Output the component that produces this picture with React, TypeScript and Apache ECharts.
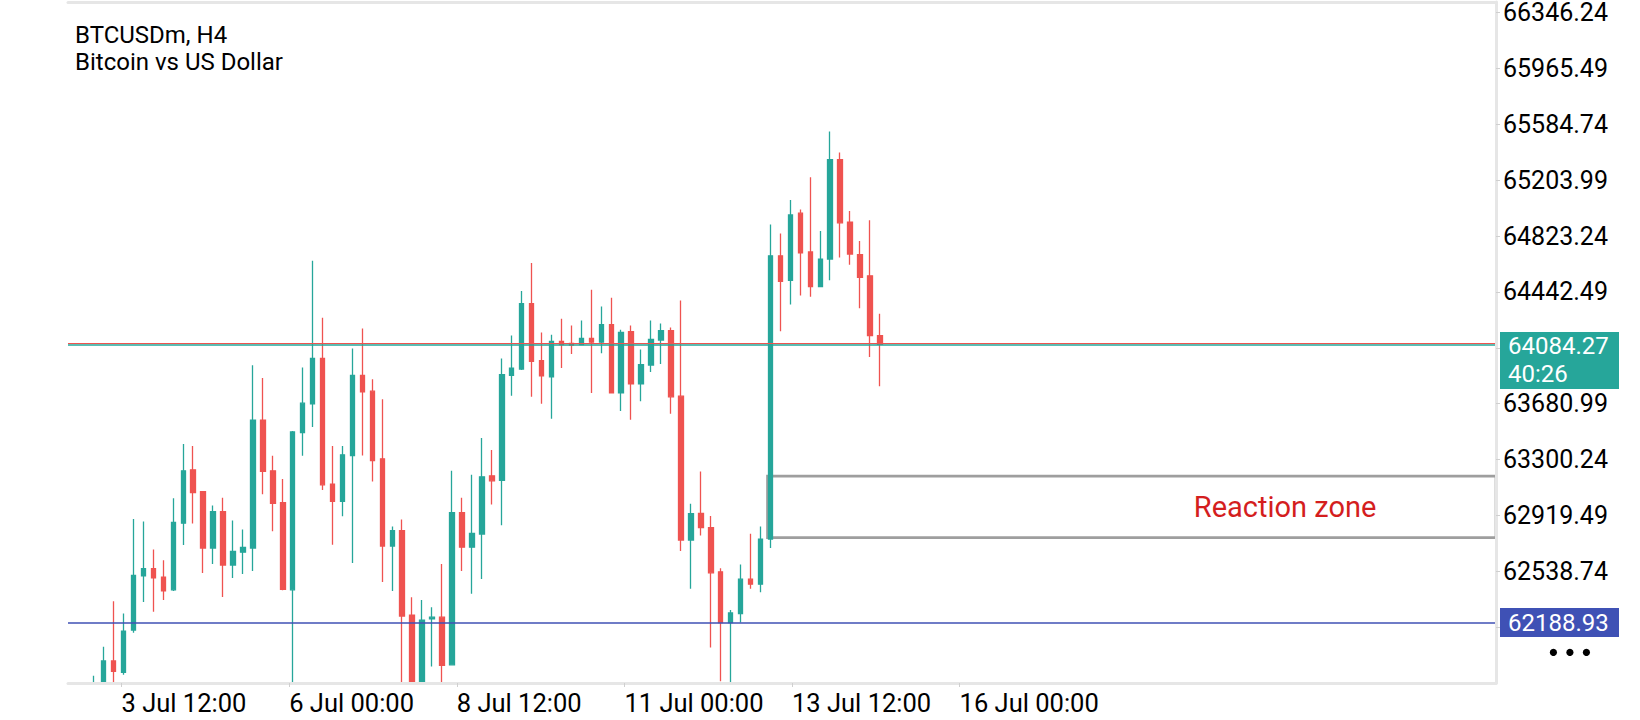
import React, { useEffect, useRef } from "react";
import * as echarts from "echarts";

// ---- Data (H4 bars, index 0 = first visible bar) ----
const opens = [
  61650, 61750, 61928, 61849, 62138, 62507, 62556, 62498, 62412, 62866,
  63230, 63081, 62697, 62945, 62581, 62669, 62697, 63569, 63223, 63006,
  62412, 63483, 63680, 63989, 63133, 63015, 63327, 63874, 63766, 63305,
  62710, 62816, 62240, 61720, 62215, 62226, 61901, 62938, 62703, 62792,
  63189, 63158, 63874, 63917, 64362, 63973, 63863, 64105, 64091, 64084,
  64125, 64100, 64220, 63754, 64172, 63815, 63944, 64114, 64179, 63732,
  62751, 62933, 62836, 62535, 62189, 62250, 62485, 62451, 62758, 64688,
  64521, 64979, 64715, 64478, 64666, 65344, 64918, 64697, 64552, 64145,
];
const closes = [
  61740, 61928, 61856, 62131, 62511, 62556, 62493, 62405, 62871, 63223,
  63074, 62697, 62945, 62581, 62674, 62701, 63569, 63219, 63002, 62416,
  63488, 63684, 63989, 63128, 63015, 63332, 63874, 63761, 63293, 62710,
  62816, 62233, 61740, 62206, 62226, 61897, 62938, 62703, 62796, 63182,
  63155, 63879, 63922, 64362, 63969, 63870, 64105, 64084, 64080, 64125,
  64100, 64220, 63754, 64166, 63815, 63946, 64118, 64179, 63727, 62751,
  62932, 62836, 62528, 62189, 62255, 62485, 62451, 62758, 64688, 64514,
  64967, 64708, 64478, 64666, 65344, 64913, 64700, 64541, 64145, 64084.27,
];
const lows = [
  61600, 61700, 61700, 61833, 62120, 62330, 62263, 62342, 62405, 62717,
  62864, 62527, 62588, 62364, 62493, 62520, 62541, 63063, 62812, 62410,
  61700, 63325, 63521, 63092, 62719, 62913, 62595, 63327, 63151, 62466,
  62405, 61700, 61650, 61650, 61890, 61740, 61897, 62541, 62385, 62486,
  62993, 62853, 63734, 63910, 63727, 63680, 63578, 63924, 64019, 64080,
  63754, 64025, 63754, 63630, 63571, 63698, 63897, 63951, 63612, 62676,
  62419, 62782, 62020, 61790, 61780, 62189, 62419, 62395, 62698, 64175,
  64356, 64417, 64410, 64478, 64521, 64676, 64628, 64331, 63998, 63800,
];
const highs = [
  61826, 62025, 62335, 62251, 62895, 62877, 62687, 62613, 63036, 63406,
  63393, 63081, 62986, 63040, 62884, 62823, 63942, 63856, 63325, 63167,
  63494, 63928, 64654, 64267, 63393, 63393, 64057, 64193, 63847, 63711,
  62844, 62891, 62362, 62342, 62294, 62588, 63223, 63040, 63196, 63447,
  63365, 63989, 64145, 64448, 64640, 64166, 64150, 64260, 64213, 64247,
  64457, 64342, 64403, 64184, 64213, 64050, 64247, 64227, 64200, 64383,
  62999, 63218, 62916, 62560, 62274, 62584, 62795, 62843, 64901, 64841,
  65068, 65003, 65223, 64858, 65536, 65393, 64993, 64789, 64930, 64294,
];

// time-axis labels (positions in bar-index units)
const timeTickPositions = [2.8, 19.64, 36.48, 53.32, 70.16, 87.0];
const timeTickLabels = [
  "3 Jul 12:00",
  "6 Jul 00:00",
  "8 Jul 12:00",
  "11 Jul 00:00",
  "13 Jul 12:00",
  "16 Jul 00:00",
];

// price axis
const priceAxisMin = 61777.24;
const priceAxisMax = 66417;
const priceStep = 380.75;
const barIndexMin = -2.58;
const barIndexMax = 140.89;

// price lines / annotations
const bidPrice = 64084.27;
const askPrice = 64095;
const countdown = "40:26";
const supportPrice = 62188.93;
const zoneStartBar = 67.7;
const zoneTop = 63187;
const zoneBottom = 62768;
const zoneLabel = "Reaction zone";

const symbolName = "BTCUSDm, H4";
const symbolDescription = "Bitcoin vs US Dollar";

const UP = "#26a69a";
const DOWN = "#ef5350";
const BLUE = "#3f51b5";
const FRAME = "#e6e6e6";

export default function App() {
  const ref = useRef<HTMLDivElement>(null);

  useEffect(() => {
    if (!ref.current) return;
    const chart = echarts.init(ref.current, null, { renderer: "svg" });

    const candleData = opens.map((o, i) => [i, o, closes[i], lows[i], highs[i]]);

    const timeLabelFor = (v: number) => {
      const k = timeTickPositions.findIndex((p) => Math.abs(p - v) < 1e-3);
      return k >= 0 ? timeTickLabels[k] : "";
    };

    // axis labels hidden behind the price boxes (or off the grid) are not drawn
    const priceLabelFor = (v: number) => {
      const steps = (v - priceAxisMin) / priceStep;
      if (Math.abs(steps - Math.round(steps)) > 1e-3) return "";
      if (steps < 0.5) return "";
      if (Math.abs(v - supportPrice) < priceStep * 0.5) return "";
      if (v < bidPrice + priceStep * 0.3 && v > bidPrice - priceStep * 0.9) return "";
      return v.toFixed(2);
    };

    const boxToken = (bg: string) => ({
      backgroundColor: bg,
      color: "#ffffff",
      fontSize: 24,
      fontFamily: "Roboto",
      width: 111,
      height: 29,
      lineHeight: 28,
      padding: [0, 0, 0, 8],
      align: "left",
    });

    const option: any = {
      animation: false,
      backgroundColor: "#ffffff",
      textStyle: { fontFamily: "Roboto" },
      title: {
        text: symbolName + "\n" + symbolDescription,
        left: 75,
        top: 21,
        padding: 0,
        textStyle: {
          fontFamily: "Roboto",
          fontSize: 24,
          fontWeight: "normal",
          color: "#000000",
          lineHeight: 27,
        },
      },
      grid: { left: 68, right: 144, top: 2, bottom: 37, show: false },
      xAxis: [
        {
          type: "value",
          position: "bottom",
          z: 10,
          min: barIndexMin,
          max: barIndexMax,
          splitLine: { show: false },
          axisLine: { show: true, onZero: false, lineStyle: { color: FRAME, width: 3 } },
          axisTick: {
            show: true,
            customValues: timeTickPositions,
            length: 4,
            lineStyle: { color: "#cfcfcf", width: 1 },
          },
          axisLabel: {
            show: true,
            customValues: timeTickPositions,
            formatter: (v: number) => timeLabelFor(v),
            align: "left",
            margin: 7,
            fontSize: 25.5,
            color: "#000000",
            fontFamily: "Roboto",
          },
        },
        {
          type: "value",
          position: "top",
          z: 10,
          min: barIndexMin,
          max: barIndexMax,
          splitLine: { show: false },
          axisLine: { show: true, onZero: false, lineStyle: { color: FRAME, width: 3 } },
          axisTick: { show: false },
          axisLabel: { show: false },
        },
      ],
      yAxis: {
        type: "value",
        position: "right",
        z: 10,
        min: priceAxisMin,
        max: priceAxisMax,
        interval: priceStep,
        scale: true,
        splitLine: { show: false },
        axisLine: { show: true, onZero: false, lineStyle: { color: FRAME, width: 3 } },
        axisTick: { show: true, length: 4, lineStyle: { color: "#cfcfcf", width: 1 } },
        axisLabel: {
          formatter: (v: number) => priceLabelFor(v),
          margin: 7,
          fontSize: 25,
          lineHeight: 20,
          color: "#000000",
          fontFamily: "Roboto",
          showMaxLabel: false,
          showMinLabel: false,
        },
      },
      graphic: [
        {
          // mask that hides candle parts falling below the price-axis minimum
          type: "rect",
          left: 60,
          bottom: 0,
          z: 5,
          shape: { width: 1445, height: 35.5 },
          style: { fill: "#ffffff" },
          silent: true,
        },
        {
          type: "group",
          right: 50,
          bottom: 64,
          children: [0, 1, 2].map((k) => ({
            type: "circle",
            shape: { cx: k * 16.5, cy: 0, r: 3.6 },
            style: { fill: "#000000" },
          })),
        },
      ],
      series: [
        {
          type: "candlestick",
          xAxisIndex: 0,
          yAxisIndex: 0,
          data: candleData,
          barWidth: 5,
          clip: true,
          silent: true,
          itemStyle: {
            color: UP,
            color0: DOWN,
            borderColor: UP,
            borderColor0: DOWN,
            borderColorDoji: DOWN,
            borderWidth: 1.3,
          },
          markArea: {
            silent: true,
            itemStyle: {
              color: "rgba(0,0,0,0)",
              borderColor: "#9e9e9e",
              borderWidth: 2.7,
            },
            label: {
              show: true,
              position: "insideRight",
              distance: 121,
              padding: [15, 0, 0, 0],
              color: "#d41e1e",
              fontSize: 29,
              fontFamily: "Roboto",
              formatter: zoneLabel,
            },
            data: [
              [
                { xAxis: zoneStartBar, yAxis: zoneTop },
                { xAxis: barIndexMax, yAxis: zoneBottom },
              ],
            ],
          },
        },
        {
          type: "line",
          xAxisIndex: 0,
          yAxisIndex: 0,
          data: [],
          clip: false,
          silent: true,
          markLine: {
            silent: true,
            symbol: ["none", "none"],
            animation: false,
            data: [
              {
                yAxis: askPrice,
                lineStyle: { color: DOWN, width: 1, type: "solid" },
                label: { show: false },
              },
              {
                yAxis: bidPrice,
                lineStyle: { color: UP, width: 1.6, type: "solid" },
                label: {
                  show: true,
                  position: "end",
                  distance: 4,
                  formatter: "{e| }\n{p|" + bidPrice.toFixed(2) + "}\n{t|" + countdown + "}",
                  rich: {
                    e: { height: 32, lineHeight: 32, fontSize: 10, color: "rgba(0,0,0,0)" },
                    p: boxToken(UP),
                    t: boxToken(UP),
                  },
                },
              },
              {
                yAxis: supportPrice,
                lineStyle: { color: BLUE, width: 1.5, type: "solid" },
                label: {
                  show: true,
                  position: "end",
                  distance: 4,
                  formatter: "{b|" + supportPrice.toFixed(2) + "}",
                  rich: { b: boxToken(BLUE) },
                },
              },
            ],
          },
        },
      ],
    };

    chart.setOption(option);
    return () => chart.dispose();
  }, []);

  return (
    <div
      ref={ref}
      style={{
        position: "fixed",
        left: 0,
        top: 0,
        width: "100vw",
        height: "100vh",
        background: "#ffffff",
      }}
    />
  );
}
